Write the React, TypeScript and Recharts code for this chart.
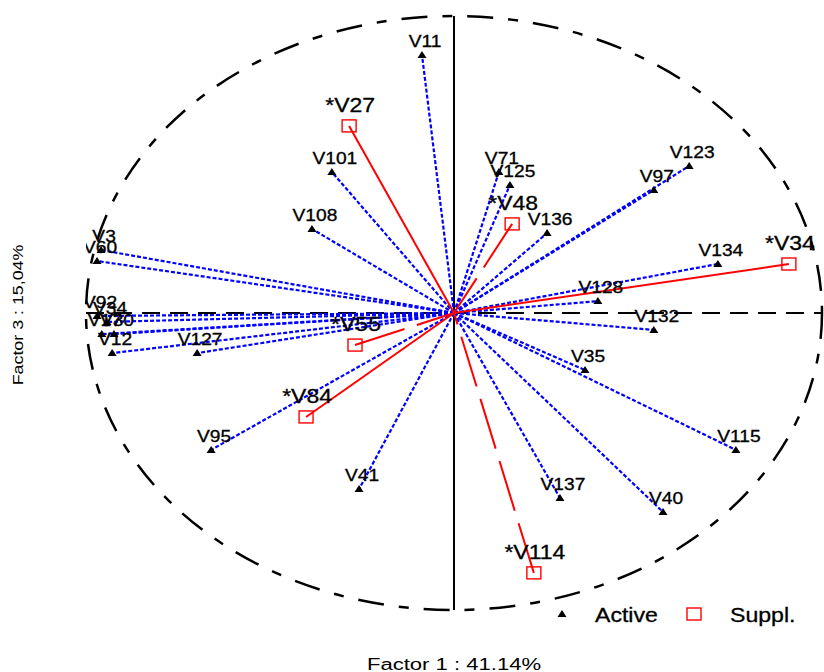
import React from "react"
import {
  ScatterChart,
  Scatter,
  XAxis,
  YAxis,
  ReferenceLine,
  ReferenceArea,
  Legend,
} from "recharts"

// active variables: coordinates on factor 1 / factor 3
const activeNames = [
  "V11", "V101", "V108", "V71", "V125", "V136", "V123", "V97", "V134", "V128",
  "V132", "V35", "V115", "V137", "V40", "V41", "V95", "V127", "V12", "V3",
  "V60", "V92", "V34", "V17", "V30",
]
const activeF1 = [
  -0.087, -0.332, -0.386, 0.122, 0.152, 0.253, 0.639, 0.543, 0.717, 0.391,
  0.543, 0.356, 0.766, 0.288, 0.568, -0.258, -0.66, -0.698, -0.929, -0.959,
  -0.97, -0.97, -0.943, -0.957, -0.924,
]
const activeF3 = [
  0.869, 0.475, 0.283, 0.475, 0.431, 0.269, 0.495, 0.414, 0.165, 0.04,
  -0.057, -0.192, -0.461, -0.623, -0.67, -0.593, -0.461, -0.135, -0.135, 0.212,
  0.175, -0.01, -0.03, -0.071, -0.071,
]

// supplementary variables
const supplNames = ["*V27", "*V48", "*V34", "*V55", "*V84", "*V114"]
const supplF1 = [-0.285, 0.158, 0.91, -0.269, -0.402, 0.217]
const supplF3 = [0.63, 0.3, 0.165, -0.108, -0.35, -0.875]
const supplDashed = ["*V48", "*V55", "*V114"]

const xTitle = "Factor 1 : 41.14%"
const yTitle = "Factor 3 : 15,04%"

const FONT = '"Liberation Sans", Arial, Helvetica, sans-serif'
const BLUE = "#0000ff"
const RED = "#ff0000"

const active = activeNames.map((name, i) => ({ name, x: activeF1[i], y: activeF3[i] }))
const suppl = supplNames.map((name, i) => ({ name, x: supplF1[i], y: supplF3[i] }))

const textStyle = {
  fontFamily: FONT,
  fill: "#000",
  stroke: "#000",
  strokeWidth: 0.3,
}

function ActiveShape(props: any) {
  const { cx, cy, payload } = props
  if (cx == null || cy == null) return null
  return (
    <g>
      <path d={`M${cx},${cy - 4}L${cx + 4.5},${cy + 3}L${cx - 4.5},${cy + 3}Z`} fill="#000" />
      <text
        transform={`translate(${cx + 3},${cy - 8}) scale(1.2,1)`}
        textAnchor="middle"
        fontSize={16}
        {...textStyle}
      >
        {payload.name}
      </text>
    </g>
  )
}

function SupplShape(props: any) {
  const { cx, cy, payload } = props
  if (cx == null || cy == null) return null
  return (
    <g>
      <rect x={cx - 7} y={cy - 6} width={14} height={12} fill="none" stroke={RED} strokeWidth={1.4} />
      <text
        transform={`translate(${cx + 1},${cy - 14}) scale(1.15,1)`}
        textAnchor="middle"
        fontSize={20}
        {...textStyle}
      >
        {payload.name}
      </text>
    </g>
  )
}

const XTitle = (props: any) => {
  const vb = props.viewBox ?? { x: 86, y: 610, width: 736, height: 62 }
  return (
    <text
      transform={`translate(${vb.x + vb.width / 2},${vb.y + 60}) scale(1.38,1)`}
      textAnchor="middle"
      fontSize={16}
      fontFamily={FONT}
      fill="#000"
    >
      {xTitle}
    </text>
  )
}

const YTitle = (props: any) => {
  const vb = props.viewBox ?? { x: 0, y: 16, width: 86, height: 594 }
  return (
    <text
      transform={`translate(${vb.x + 23},${vb.y + vb.height / 2 + 2}) rotate(-90) scale(1.15,1)`}
      textAnchor="middle"
      fontSize={15.5}
      fontFamily={FONT}
      fill="#000"
    >
      {yTitle}
    </text>
  )
}

const LegendBox = () => (
  <svg width={270} height={30} style={{ display: "block" }}>
    <path d="M12,10L16.5,17L7.5,17Z" fill="#000" />
    <text transform="translate(45,21.5) scale(1.1,1)" fontSize={21} {...textStyle}>
      Active
    </text>
    <rect x={137} y={8} width={14} height={12} fill="none" stroke={RED} strokeWidth={1.4} />
    <text transform="translate(180,21.5) scale(1.1,1)" fontSize={21} {...textStyle}>
      Suppl.
    </text>
  </svg>
)

export default function App() {
  return (
    <div style={{ position: "absolute", left: 0, top: 0, width: 824, height: 672, background: "#fff" }}>
      <ScatterChart width={824} height={672} margin={{ top: 16, right: 2, bottom: 0, left: 0 }}>
        <XAxis
          type="number"
          dataKey="x"
          domain={[-1, 1]}
          allowDataOverflow
          tick={false}
          tickLine={false}
          axisLine={false}
          height={62}
          label={{ content: XTitle }}
        />
        <YAxis
          type="number"
          dataKey="y"
          domain={[-1, 1]}
          allowDataOverflow
          tick={false}
          tickLine={false}
          axisLine={false}
          width={86}
          label={{ content: YTitle }}
        />
        {/* correlation circle */}
        <ReferenceArea
          x1={-1}
          x2={1}
          y1={-1}
          y2={1}
          shape={(p: any) => (
            <ellipse
              cx={p.x + p.width / 2}
              cy={p.y + p.height / 2}
              rx={p.width / 2}
              ry={p.height / 2}
              fill="none"
              stroke="#000"
              strokeWidth={2.5}
              strokeDasharray="26 15 10 15"
            />
          )}
        />
        <ReferenceLine y={0} stroke="#000" strokeWidth={2} strokeDasharray="18 10" />
        <ReferenceLine x={0} stroke="#000" strokeWidth={2} />
        {active.map((d) => (
          <ReferenceLine
            key={d.name}
            segment={[{ x: 0, y: 0 }, { x: d.x, y: d.y }]}
            stroke={BLUE}
            strokeWidth={2.2}
            strokeDasharray="4 2"
          />
        ))}
        {suppl.map((d) => (
          <ReferenceLine
            key={d.name}
            segment={[{ x: d.x, y: d.y }, { x: 0, y: 0 }]}
            stroke={RED}
            strokeWidth={2}
            strokeDasharray={supplDashed.includes(d.name) ? "52 13" : undefined}
          />
        ))}
        <Scatter name="Active" data={active} shape={ActiveShape} isAnimationActive={false} />
        <Scatter name="Suppl." data={suppl} shape={SupplShape} isAnimationActive={false} />
        <Legend
          layout="horizontal"
          verticalAlign="middle"
          align="center"
          wrapperStyle={{ left: 550, top: 600, width: 270, height: 30 }}
          content={() => <LegendBox />}
        />
      </ScatterChart>
    </div>
  )
}
